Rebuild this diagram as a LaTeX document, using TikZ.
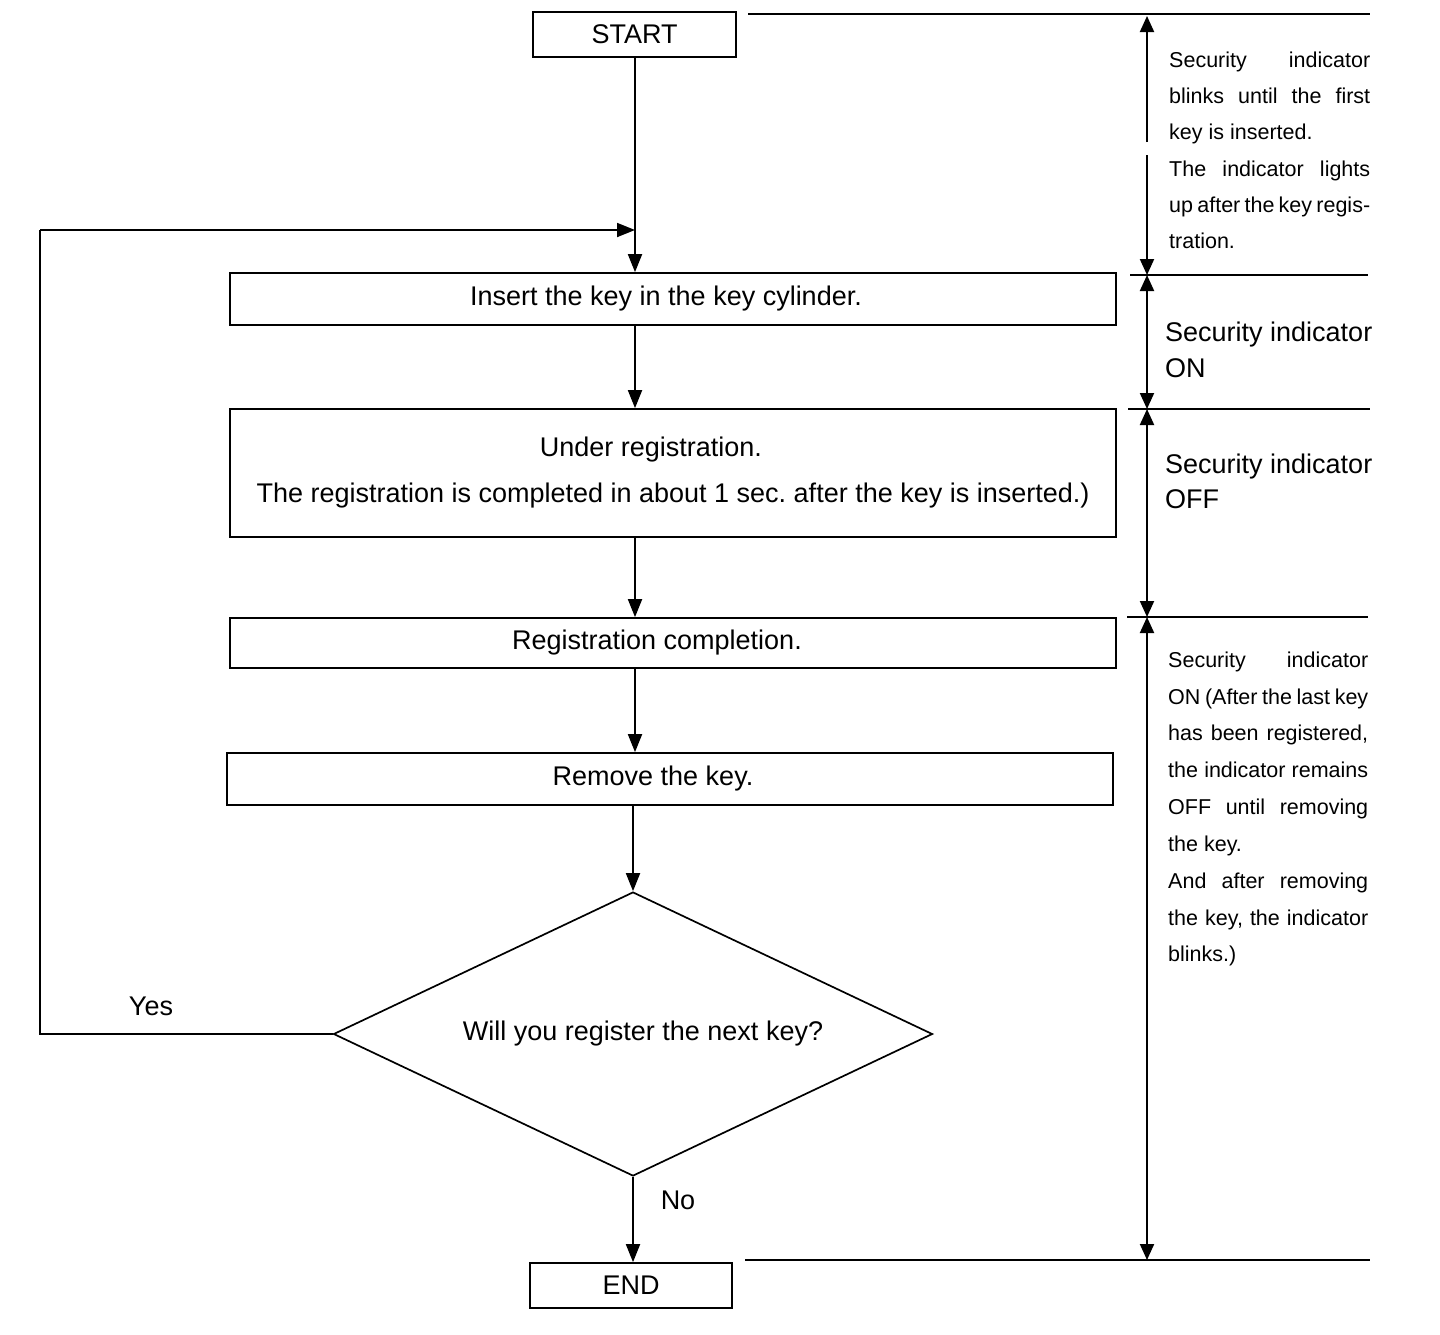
\documentclass[tikz,border=0pt]{standalone}
\usepackage{fontspec}
\setmainfont{Liberation Sans}
\usetikzlibrary{arrows.meta,shapes.geometric}
\frenchspacing
\newcommand\jline[2][200pt]{\makebox[#1][s]{\spaceskip=0.28em plus 1fil minus 0.2em\relax #2}}
\begin{document}
\begin{tikzpicture}[x=1pt,y=-1pt,
  font=\fontsize{27}{32}\selectfont,
  box/.style={draw,line width=1.7pt,inner sep=0pt,align=center},
  arr/.style={-{Triangle[length=18pt,width=14pt]},line width=1.8pt},
  darr/.style={{Triangle[length=16pt,width=14pt]}-{Triangle[length=16pt,width=14pt]},line width=2pt},
  uarr/.style={-{Triangle[length=16pt,width=14pt]},line width=2pt},
  ref/.style={line width=1.8pt},
  small/.style={font=\fontsize{21.5}{26}\selectfont,anchor=base west,inner sep=0pt},
  big/.style={anchor=base west,inner sep=0pt},
  lbl/.style={inner sep=0pt}]
\useasboundingbox (0,0) rectangle (1440,1334);

% flow boxes
\node[box,minimum width=203pt,minimum height=45pt] (start) at (634.5,34.5) {START};
\node[box,minimum width=886pt,minimum height=52pt] (ins) at (673,299) {Insert the key in the key cylinder.\hspace*{14pt}};
\node[box,minimum width=886pt,minimum height=128pt,font=\fontsize{27}{46}\selectfont] (under) at (673,473)
  {Under registration.\hspace*{44pt}\\The registration is completed in about 1 sec. after the key is inserted.)};
\node[box,minimum width=886pt,minimum height=50pt] (regc) at (673,643) {Registration completion.\hspace*{32pt}};
\node[box,minimum width=886pt,minimum height=52pt] (rem) at (670,779) {Remove the key.\hspace*{34pt}};
\node[draw,line width=1.7pt,shape=diamond,aspect=2.1,inner sep=0pt,minimum width=599pt,minimum height=284pt] (dia) at (633,1034)
  {\hspace*{20pt}\raisebox{-4pt}{Will you register the next key?}};
\node[box,minimum width=202pt,minimum height=45pt] (end) at (631,1285.5) {END};

\coordinate (mx) at (635,0);
\coordinate (join) at (635,230);
\coordinate (ltop) at (40,230);
\coordinate (lbot) at (dia.west -| ltop);

% connectors
\draw[line width=1.8pt] (start.south -| mx) -- (join);
\draw[arr] (join) -- (ins.north -| mx);
\draw[arr] (ins.south -| mx) -- (under.north -| mx);
\draw[arr] (under.south -| mx) -- (regc.north -| mx);
\draw[arr] (regc.south -| mx) -- (rem.north -| mx);
\draw[arr] (rem.south -| dia.north) -- (dia.north);
\draw[arr] (dia.south) -- (dia.south |- end.north);
\draw[line width=1.8pt] (dia.west) -- (lbot) -- (ltop);
\draw[arr] (ltop) -- (join);

\node[lbl] (yes) at (151,1006) {Yes};
\node[lbl] (no) at (678,1200) {No};

% right-side reference lines
\coordinate (h0a) at (748,14);   \coordinate (h0b) at (1370,14);
\coordinate (h1a) at (1130,275); \coordinate (h1b) at (1368,275);
\coordinate (h2a) at (1128,409); \coordinate (h2b) at (1370,409);
\coordinate (h3a) at (1127,617); \coordinate (h3b) at (1368,617);
\coordinate (h4a) at (745,1260); \coordinate (h4b) at (1370,1260);
\draw[ref] (h0a) -- (h0b);
\draw[ref] (h1a) -- (h1b);
\draw[ref] (h2a) -- (h2b);
\draw[ref] (h3a) -- (h3b);
\draw[ref] (h4a) -- (h4b);

\coordinate (v0) at (1147,16);
\coordinate (g1) at (1147,142);
\coordinate (g2) at (1147,155);
\coordinate (v1) at (1147,275);
\coordinate (v2) at (1147,409);
\coordinate (v3) at (1147,617);
\coordinate (v4) at (1147,1260);
\draw[uarr] (g1) -- (v0);
\draw[uarr] (g2) -- (v1);
\draw[darr] (v1) -- (v2);
\draw[darr] (v2) -- (v3);
\draw[darr] (v3) -- (v4);

% right-side texts
\node[small] (a1) at (1169,67)  {\jline[201pt]{Security indicator}};
\node[small] (a2) at (1169,103) {\jline[201pt]{blinks until the first}};
\node[small] (a3) at (1169,139) {key is inserted.};
\node[small] (a4) at (1169,176) {\jline[201pt]{The indicator lights}};
\node[small] (a5) at (1169,212) {\jline[201pt]{up after the key regis-}};
\node[small] (a6) at (1169,248) {tration.};

\node[big] (b1) at (1165,341) {Security indicator};
\node[big] (b2) at (1165,377) {ON};
\node[big] (c1) at (1165,473) {Security indicator};
\node[big] (c2) at (1165,508) {OFF};

\node[small] (d1) at (1168,667) {\jline{Security indicator}};
\node[small] (d2) at (1168,704) {\jline{ON (After the last key}};
\node[small] (d3) at (1168,740) {\jline{has been registered,}};
\node[small] (d4) at (1168,777) {\jline{the indicator remains}};
\node[small] (d5) at (1168,814) {\jline{OFF until removing}};
\node[small] (d6) at (1168,851) {the key.};
\node[small] (d7) at (1168,888) {\jline{And after removing}};
\node[small] (d8) at (1168,925) {\jline{the key, the indicator}};
\node[small] (d9) at (1168,961) {blinks.)};
\end{tikzpicture}
\end{document}
